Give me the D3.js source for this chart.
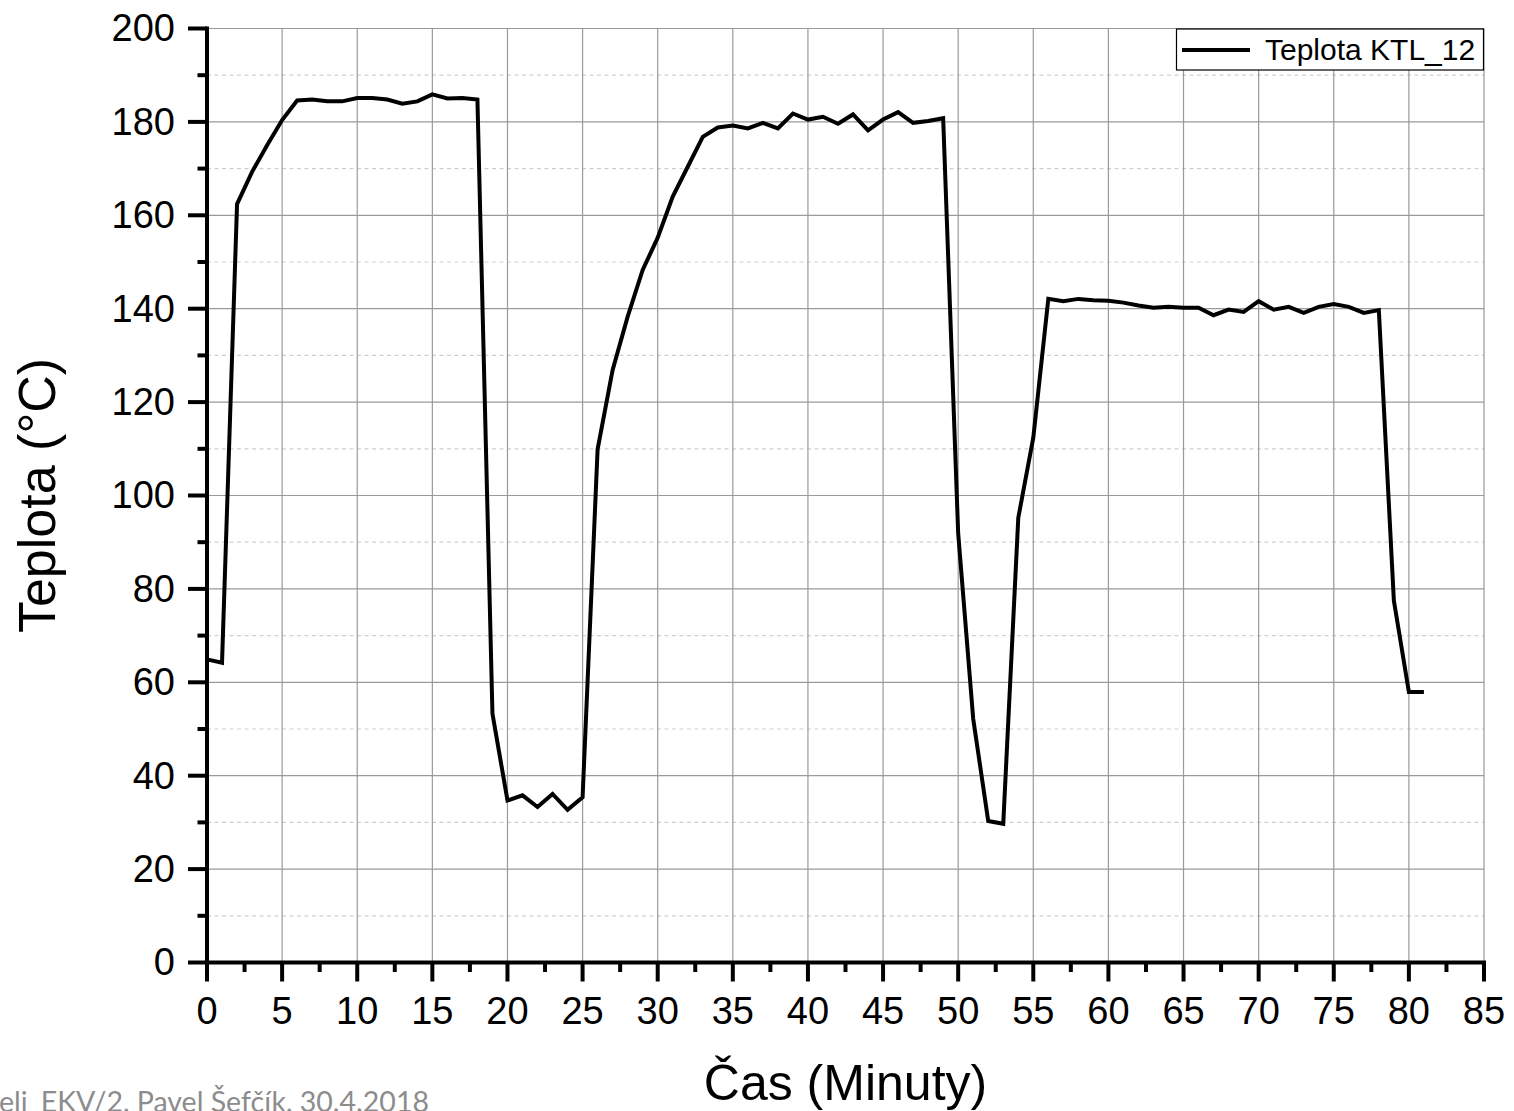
<!DOCTYPE html>
<html>
<head>
<meta charset="utf-8">
<script src="https://cdn.jsdelivr.net/npm/d3@7"></script>
<style>
  body { margin: 0; background: #fff; }
  svg { display: block; }
</style>
</head>
<body>
<svg id="chart" width="1514" height="1111"></svg>
<script>
//////// Data
var minutes = [0, 1, 2, 3, 4, 5, 6, 7, 8, 9, 10, 11, 12, 13, 14, 15, 16, 17, 18, 19,
  20, 21, 22, 23, 24, 25, 26, 27, 28, 29, 30, 31, 32, 33, 34, 35, 36, 37, 38, 39,
  40, 41, 42, 43, 44, 45, 46, 47, 48, 49, 50, 51, 52, 53, 54, 55, 56, 57, 58, 59,
  60, 61, 62, 63, 64, 65, 66, 67, 68, 69, 70, 71, 72, 73, 74, 75, 76, 77, 78, 79,
  80, 81]
var teplota = [64.9, 64.2, 162.4, 169.3, 175.0, 180.4, 184.6, 184.8, 184.4, 184.4,
  185.1, 185.1, 184.8, 183.9, 184.4, 185.9, 185.0, 185.1, 184.8, 53.3,
  34.7, 35.8, 33.3, 36.1, 32.7, 35.4, 109.9, 126.9, 138.3, 148.3,
  155.2, 164.0, 170.4, 176.8, 178.8, 179.2, 178.6, 179.8, 178.6, 181.8,
  180.5, 181.1, 179.6, 181.6, 178.2, 180.5, 182.1, 179.8, 180.2, 180.8,
  91.9, 52.2, 30.3, 29.7, 95.2, 112.4, 142.1, 141.6, 142.1, 141.8,
  141.7, 141.3, 140.7, 140.2, 140.4, 140.2, 140.2, 138.6, 139.8, 139.3,
  141.6, 139.8, 140.4, 139.1, 140.4, 141.0, 140.4, 139.1, 139.7, 77.5,
  57.9, 57.9]
var xTicks = [0, 5, 10, 15, 20, 25, 30, 35, 40, 45, 50, 55, 60, 65, 70, 75, 80, 85]
var xMinor = [2.5, 7.5, 12.5, 17.5, 22.5, 27.5, 32.5, 37.5, 42.5, 47.5, 52.5, 57.5, 62.5, 67.5, 72.5, 77.5, 82.5]
var yTicks = [0, 20, 40, 60, 80, 100, 120, 140, 160, 180, 200]
var yMinor = [10, 30, 50, 70, 90, 110, 130, 150, 170, 190]
var seriesName = "Teplota KTL_12"
var footer = "eli_EKV/2, Pavel Šefčík, 30.4.2018"

var pts = minutes.map((m, i) => ({ m: m, t: teplota[i] }))

//////// Scales
var x = d3.scaleLinear().domain([0, 85]).range([207, 1484])
var y = d3.scaleLinear().domain([0, 200]).range([962.5, 28.5])
var font = "'Liberation Sans', Arial, sans-serif"

svg = d3.select("#chart")

// grid
var grid = svg.append("g")
grid.selectAll(".gmin").data(yMinor).enter().append("line")
  .attr("x1", x(0)).attr("x2", x(85))
  .attr("y1", d => y(d)).attr("y2", d => y(d))
  .attr("stroke", "#cfcfcf").attr("stroke-width", 1.2)
  .attr("stroke-dasharray", "4,3.5")
grid.selectAll(".gy").data(yTicks.filter(d => d > 0)).enter().append("line")
  .attr("x1", x(0)).attr("x2", x(85))
  .attr("y1", d => y(d)).attr("y2", d => y(d))
  .attr("stroke", "#9a9a9a").attr("stroke-width", 1.2)
grid.selectAll(".gx").data(xTicks.filter(d => d > 0)).enter().append("line")
  .attr("x1", d => x(d)).attr("x2", d => x(d))
  .attr("y1", y(0)).attr("y2", y(200))
  .attr("stroke", "#9a9a9a").attr("stroke-width", 1.2)

// data line
var line = d3.line().x(d => x(d.m)).y(d => y(d.t))
svg.append("path").datum(pts)
  .attr("d", line)
  .attr("fill", "none")
  .attr("stroke", "#000")
  .attr("stroke-width", 4)
  .attr("stroke-linejoin", "miter")

//////// Axes
var ax = svg.append("g").attr("stroke", "#000").attr("stroke-width", 4)
// x axis
ax.append("line").attr("x1", x(0) - 2).attr("x2", x(85) + 2).attr("y1", y(0)).attr("y2", y(0))
ax.selectAll(".xt").data(xTicks).enter().append("line")
  .attr("x1", d => x(d)).attr("x2", d => x(d))
  .attr("y1", y(0)).attr("y2", y(0) + 19)
ax.selectAll(".xm").data(xMinor).enter().append("line")
  .attr("x1", d => x(d)).attr("x2", d => x(d))
  .attr("y1", y(0)).attr("y2", y(0) + 9.5)
// y axis
ax.append("line").attr("x1", x(0)).attr("x2", x(0)).attr("y1", y(0) + 2).attr("y2", y(200) - 2)
ax.selectAll(".yt").data(yTicks).enter().append("line")
  .attr("x1", x(0) - 19).attr("x2", x(0))
  .attr("y1", d => y(d)).attr("y2", d => y(d))
ax.selectAll(".ym").data(yMinor).enter().append("line")
  .attr("x1", x(0) - 9.5).attr("x2", x(0))
  .attr("y1", d => y(d)).attr("y2", d => y(d))

// tick labels
svg.selectAll(".xl").data(xTicks).enter().append("text")
  .attr("x", d => x(d)).attr("y", 1024)
  .attr("text-anchor", "middle")
  .style("font-family", font).style("font-size", "38px")
  .text(d => d)
svg.selectAll(".yl").data(yTicks).enter().append("text")
  .attr("x", 175).attr("y", d => y(d) + 12.8)
  .attr("text-anchor", "end")
  .style("font-family", font).style("font-size", "38px")
  .text(d => d)

// axis titles
svg.append("text")
  .attr("x", (x(0) + x(85)) / 2).attr("y", 1100)
  .attr("text-anchor", "middle")
  .style("font-family", font).style("font-size", "50px")
  .text("Čas (Minuty)")
svg.append("text")
  .attr("transform", "translate(55," + (y(0) + y(200)) / 2 + ") rotate(-90)")
  .attr("text-anchor", "middle")
  .style("font-family", font).style("font-size", "52px")
  .text("Teplota (°C)")

//////// Legend
var lg = svg.append("g")
lg.append("rect")
  .attr("x", 1176.5).attr("y", 29).attr("width", 307).attr("height", 41)
  .attr("fill", "#fff").attr("stroke", "#000").attr("stroke-width", 1.2)
lg.append("line")
  .attr("x1", 1182).attr("x2", 1250).attr("y1", 50).attr("y2", 50)
  .attr("stroke", "#000").attr("stroke-width", 4)
lg.append("text")
  .attr("x", 1265).attr("y", 60)
  .style("font-family", font).style("font-size", "30px")
  .text(seriesName)

// slide footer (cut off at the page edge, as in the source slide)
svg.append("text")
  .attr("x", -1).attr("y", 1112)
  .attr("textLength", 430).attr("lengthAdjust", "spacingAndGlyphs")
  .attr("fill", "#8c8c8c")
  .style("font-family", "Lato, 'Open Sans', sans-serif").style("font-size", "28px")
  .text(footer)
</script>
</body>
</html>
